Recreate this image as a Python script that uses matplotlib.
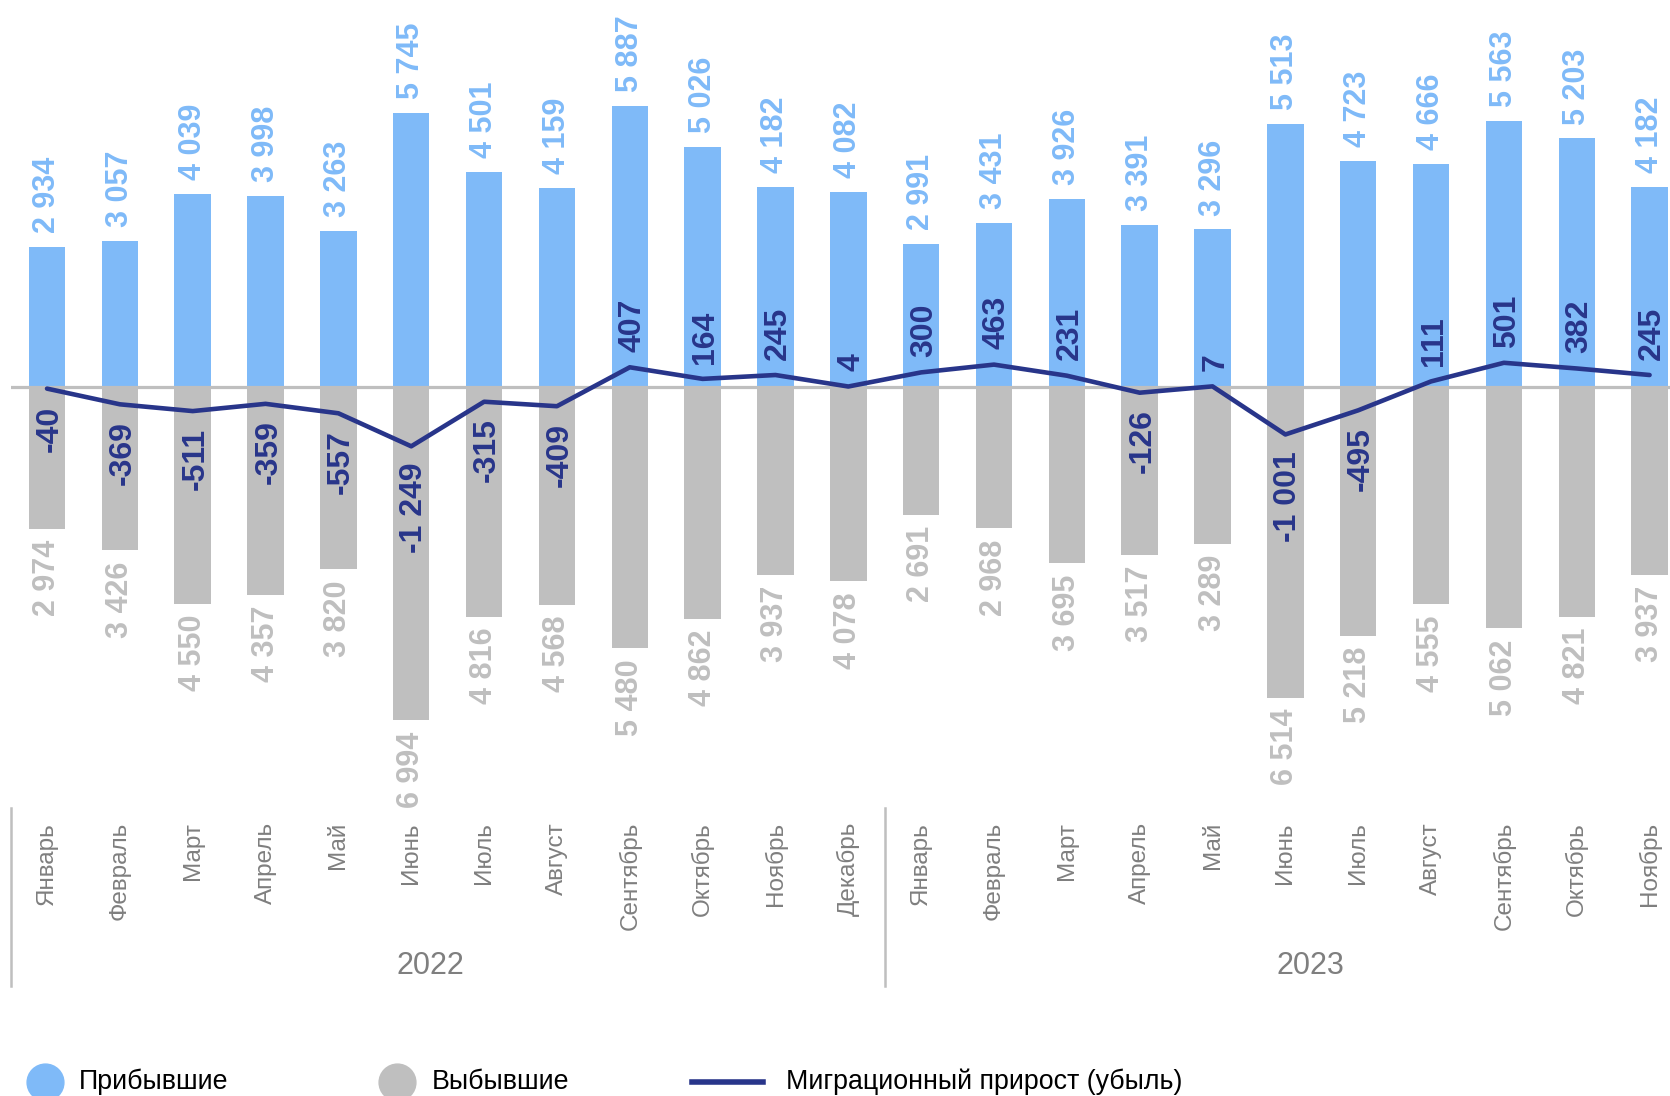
import matplotlib
matplotlib.use("Agg")
import matplotlib.pyplot as plt
from matplotlib.lines import Line2D
from matplotlib.transforms import blended_transform_factory
import numpy as np

plt.rcParams['font.family'] = ['Liberation Sans', 'DejaVu Sans']

months_2022 = ["Январь", "Февраль", "Март", "Апрель", "Май", "Июнь", "Июль",
               "Август", "Сентябрь", "Октябрь", "Ноябрь", "Декабрь"]
months_2023 = ["Январь", "Февраль", "Март", "Апрель", "Май", "Июнь", "Июль",
               "Август", "Сентябрь", "Октябрь", "Ноябрь"]
years = ["2022", "2023"]
arrivals = [2934, 3057, 4039, 3998, 3263, 5745, 4501, 4159, 5887, 5026, 4182, 4082,
            2991, 3431, 3926, 3391, 3296, 5513, 4723, 4666, 5563, 5203, 4182]
departures = [2974, 3426, 4550, 4357, 3820, 6994, 4816, 4568, 5480, 4862, 3937, 4078,
              2691, 2968, 3695, 3517, 3289, 6514, 5218, 4555, 5062, 4821, 3937]
net = [-40, -369, -511, -359, -557, -1249, -315, -409, 407, 164, 245, 4,
       300, 463, 231, -126, 7, -1001, -495, 111, 501, 382, 245]
legend_labels = ["Прибывшие", "Выбывшие", "Миграционный прирост (убыль)"]

BLUE = '#7fbaf8'
GRAY = '#bfbfbf'
NAVY = '#28358a'
TXTGRAY = '#7f7f7f'

W, H = 1670, 1096
fig = plt.figure(figsize=(W / 100, H / 100), dpi=100)

# axes geometry (pixels)
x_left_px, x_right_px = 10.6, 1686.0
y_top_px, y_bot_px = 0.0, 808.0
ax = fig.add_axes([x_left_px / W, 1 - y_bot_px / H,
                   (x_right_px - x_left_px) / W, (y_bot_px - y_top_px) / H])
n = len(arrivals)
x = np.arange(n)
ax.set_xlim(-0.5, n - 0.5)
ax.set_ylim(-8829, 8104)
ax.axis('off')

ax.bar(x, arrivals, width=0.5, color=BLUE, zorder=2)
ax.bar(x, [-d for d in departures], width=0.5, color=GRAY, zorder=2)
ax.axhline(0, xmin=0, xmax=1, color=GRAY, lw=2.3, zorder=3)
ax.plot(x, net, color=NAVY, lw=3.3, zorder=4, solid_capstyle='round', solid_joinstyle='round')


def fmt(v):
    s = f"{abs(v):,}".replace(",", " ")
    return ("-" if v < 0 else "") + s


for i in range(n):
    ax.annotate(fmt(arrivals[i]), (x[i], arrivals[i]), xytext=(0, 10), textcoords='offset points',
                rotation=90, ha='center', va='bottom', fontsize=22, fontweight='bold',
                color=BLUE, zorder=5)
    ax.annotate(fmt(departures[i]), (x[i], -departures[i]), xytext=(0, -8), textcoords='offset points',
                rotation=90, ha='center', va='top', fontsize=22, fontweight='bold',
                color=GRAY, zorder=5)
    if net[i] >= 0:
        ax.annotate(fmt(net[i]), (x[i], net[i]), xytext=(2, 11), textcoords='offset points',
                    rotation=90, ha='center', va='bottom', fontsize=23, fontweight='bold',
                    color=NAVY, zorder=6)
    else:
        ax.annotate(fmt(net[i]), (x[i], net[i]), xytext=(2, -12), textcoords='offset points',
                    rotation=90, ha='center', va='top', fontsize=23, fontweight='bold',
                    color=NAVY, zorder=6)

# category axis labels
tr = blended_transform_factory(ax.transData, fig.transFigure)
months = months_2022 + months_2023
for i, m in enumerate(months):
    ax.text(x[i], 1 - 822 / H, m, transform=tr, rotation=90, ha='center', va='top',
            fontsize=17.5, color=TXTGRAY, clip_on=False)

# group separators
for sx in [-0.5, len(months_2022) - 0.5]:
    ax.add_line(Line2D([sx, sx], [1 - 808 / H, 1 - 986 / H], transform=tr,
                       color=GRAY, lw=1.8, clip_on=False))

year_pos = [5.26, 17.34]
for yp, yl in zip(year_pos, years):
    ax.text(yp, 1 - 966 / H, yl, transform=tr, ha='center', va='center',
            fontsize=22, color=TXTGRAY, clip_on=False)

# legend
ly = 1 - 1082 / H
fig.add_artist(Line2D([45 / W], [ly], marker='o', markersize=26.5, color=BLUE, lw=0,
                      transform=fig.transFigure))
fig.text(79 / W, ly, legend_labels[0], fontsize=19.3, color='black', va='center', ha='left')
fig.add_artist(Line2D([397 / W], [ly], marker='o', markersize=26.5, color=GRAY, lw=0,
                      transform=fig.transFigure))
fig.text(432 / W, ly, legend_labels[1], fontsize=19.3, color='black', va='center', ha='left')
fig.add_artist(Line2D([692 / W, 763 / W], [ly, ly], color=NAVY, lw=4.0,
                      transform=fig.transFigure))
fig.text(786 / W, ly, legend_labels[2], fontsize=19.3, color='black', va='center', ha='left')

fig.savefig("out.png", dpi=100)
